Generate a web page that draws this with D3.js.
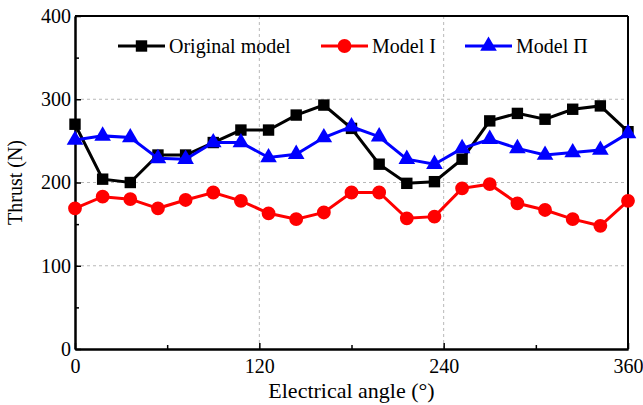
<!DOCTYPE html>
<html>
<head>
<meta charset="utf-8">
<script src="https://cdn.jsdelivr.net/npm/d3@7"></script>
<style>
  body { margin: 0; background: #fff; }
  text { font-family: "Liberation Serif", "Times New Roman", serif; }
</style>
</head>
<body>
<div id="chart"></div>
<script>
// electrical angle, every 18 degrees
var angles = [0, 18, 36, 54, 72, 90, 108, 126, 144, 162, 180, 198, 216, 234, 252, 270, 288, 306, 324, 342, 360];
// thrust values (N)
var original = [270, 204, 200, 233, 233, 248, 263, 263, 281, 293, 265, 222, 199, 201, 228, 274, 283, 276, 288, 292, 261];
var model1   = [169, 183, 180, 169, 179, 188, 178, 163, 156, 164, 188, 188, 157, 159, 193, 198, 175, 167, 156, 148, 178];
var model2   = [251, 256, 254, 229, 228, 248, 248, 230, 234, 254, 267, 255, 228, 222, 241, 252, 241, 233, 236, 239, 259];
var xTicks = [0, 120, 240, 360];
var yTicks = [0, 100, 200, 300, 400];

var margin = {top: 16, right: 15, bottom: 56, left: 75},
    width = 643 - margin.left - margin.right,
    height = 405 - margin.top - margin.bottom;

var svg = d3.select("#chart")
  .append("svg")
    .attr("width", 643)
    .attr("height", 405)
  .append("g")
    .attr("transform", "translate(" + margin.left + "," + margin.top + ")");

var x = d3.scaleLinear().domain([0, 360]).range([0, width]);
var y = d3.scaleLinear().domain([0, 400]).range([height, 0]);

// dashed grid at the major ticks
svg.append("g").selectAll("line.gx")
  .data(xTicks.slice(1, -1))
  .enter().append("line")
    .attr("x1", function(d) { return x(d); })
    .attr("x2", function(d) { return x(d); })
    .attr("y1", 0).attr("y2", height)
    .attr("stroke", "#b8b8b8").attr("stroke-dasharray", "3,3");
svg.append("g").selectAll("line.gy")
  .data(yTicks.slice(1, -1))
  .enter().append("line")
    .attr("y1", function(d) { return y(d); })
    .attr("y2", function(d) { return y(d); })
    .attr("x1", 0).attr("x2", width)
    .attr("stroke", "#b8b8b8").attr("stroke-dasharray", "3,3");

// axes, ticks pointing inward
svg.append("g")
  .attr("transform", "translate(0," + height + ")")
  .call(d3.axisBottom(x).tickValues(xTicks).tickSize(-6).tickPadding(10).tickSizeOuter(0));
svg.append("g")
  .attr("transform", "translate(0," + height + ")")
  .call(d3.axisBottom(x).tickValues([60, 180, 300]).tickSize(-4).tickFormat("").tickSizeOuter(0));
svg.append("g")
  .call(d3.axisLeft(y).tickValues(yTicks).tickSize(-6).tickPadding(4).tickSizeOuter(0));
svg.append("g")
  .call(d3.axisLeft(y).tickValues([50, 150, 250, 350]).tickSize(-4).tickFormat("").tickSizeOuter(0));

svg.selectAll(".domain").attr("stroke", "#000").attr("stroke-width", 2);
svg.selectAll(".tick line").attr("stroke", "#000").attr("stroke-width", 1.5);
svg.selectAll(".tick text").style("font-size", "20px").attr("fill", "#000");

// top and right frame
svg.append("line").attr("x1", 0).attr("x2", width).attr("y1", 0).attr("y2", 0)
  .attr("stroke", "#000").attr("stroke-width", 2);
svg.append("line").attr("x1", width).attr("x2", width).attr("y1", 0).attr("y2", height)
  .attr("stroke", "#000").attr("stroke-width", 2);

// axis titles
svg.append("text")
  .attr("x", width / 2).attr("y", height + 49)
  .attr("text-anchor", "middle")
  .style("font-size", "22px")
  .text("Electrical angle (°)");
svg.append("text")
  .attr("transform", "translate(" + (-53) + "," + (height / 2) + ")rotate(-90)")
  .attr("text-anchor", "middle")
  .style("font-size", "20px")
  .text("Thrust (N)");

var series = [
  {name: "Original model", values: original, color: "#000000", shape: d3.symbolSquare, size: 130},
  {name: "Model I", values: model1, color: "#ff0000", shape: d3.symbolCircle, size: 150},
  {name: "Model \u03A0", values: model2, color: "#0000ff", shape: d3.symbolTriangle, size: 120}
];

var line = d3.line()
  .x(function(d, i) { return x(angles[i]); })
  .y(function(d) { return y(d); });

// black first, then red, blue on top
series.forEach(function(s) {
  svg.append("path")
    .datum(s.values)
    .attr("fill", "none")
    .attr("stroke", s.color)
    .attr("stroke-width", 3)
    .attr("d", line);
  svg.selectAll(null)
    .data(s.values)
    .enter().append("path")
      .attr("d", d3.symbol().type(s.shape).size(s.size))
      .attr("transform", function(d, i) { return "translate(" + x(angles[i]) + "," + y(d) + ")"; })
      .attr("fill", s.color);
});

// legend
var legX = [43, 246, 390];
series.forEach(function(s, i) {
  var g = svg.append("g").attr("transform", "translate(" + legX[i] + ",30)");
  g.append("line").attr("x1", 0).attr("x2", 47).attr("y1", 0).attr("y2", 0)
    .attr("stroke", s.color).attr("stroke-width", 3);
  g.append("path")
    .attr("d", d3.symbol().type(s.shape).size(s.size))
    .attr("transform", "translate(23.5,0)")
    .attr("fill", s.color);
  g.append("text")
    .attr("x", 51).attr("y", 7)
    .style("font-size", "20px")
    .text(s.name);
});
</script>
</body>
</html>
